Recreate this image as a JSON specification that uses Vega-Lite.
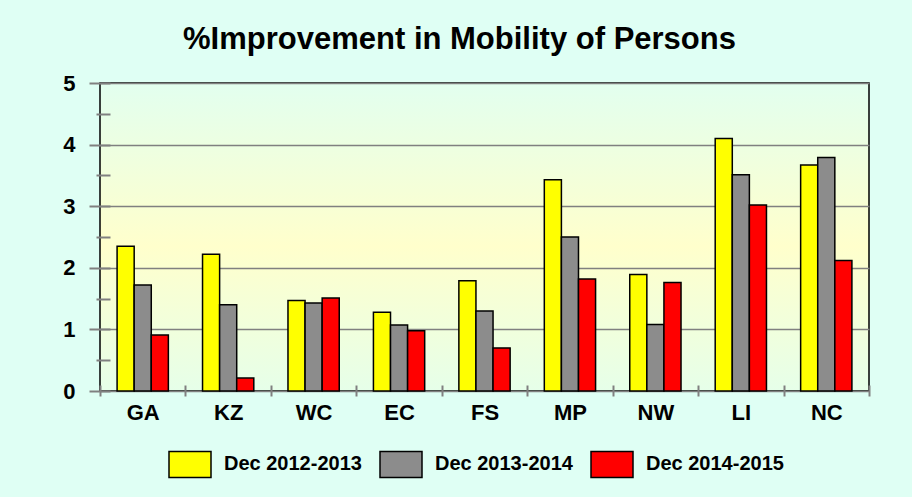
{
  "$schema": "https://vega.github.io/schema/vega-lite/v6.json",
  "width": 769,
  "height": 308,
  "autosize": "none",
  "padding": {"left": 100, "top": 83, "right": 43, "bottom": 106},
  "background": "#dffff4",
  "view": {
    "fill": {"gradient": "linear", "x1": 0, "y1": 0, "x2": 0, "y2": 1,
      "stops": [{"offset": 0, "color": "#e2ffef"}, {"offset": 0.53, "color": "#ffffcc"}, {"offset": 1, "color": "#e6ffe9"}]},
    "stroke": "black",
    "strokeWidth": 1.5
  },
  "title": {
    "text": "%Improvement in Mobility of Persons",
    "font": "Liberation Sans",
    "fontSize": 31,
    "fontWeight": "bold",
    "color": "black",
    "anchor": "middle",
    "frame": "group",
    "dx": -25,
    "baseline": "alphabetic",
    "offset": -8
  },
  "data": {
    "values": [
      {"province": "GA", "period": "Dec 2012-2013", "value": 2.35},
      {"province": "GA", "period": "Dec 2013-2014", "value": 1.72},
      {"province": "GA", "period": "Dec 2014-2015", "value": 0.91},
      {"province": "KZ", "period": "Dec 2012-2013", "value": 2.22},
      {"province": "KZ", "period": "Dec 2013-2014", "value": 1.40},
      {"province": "KZ", "period": "Dec 2014-2015", "value": 0.21},
      {"province": "WC", "period": "Dec 2012-2013", "value": 1.47},
      {"province": "WC", "period": "Dec 2013-2014", "value": 1.43},
      {"province": "WC", "period": "Dec 2014-2015", "value": 1.51},
      {"province": "EC", "period": "Dec 2012-2013", "value": 1.28},
      {"province": "EC", "period": "Dec 2013-2014", "value": 1.07},
      {"province": "EC", "period": "Dec 2014-2015", "value": 0.98},
      {"province": "FS", "period": "Dec 2012-2013", "value": 1.79},
      {"province": "FS", "period": "Dec 2013-2014", "value": 1.30},
      {"province": "FS", "period": "Dec 2014-2015", "value": 0.70},
      {"province": "MP", "period": "Dec 2012-2013", "value": 3.43},
      {"province": "MP", "period": "Dec 2013-2014", "value": 2.50},
      {"province": "MP", "period": "Dec 2014-2015", "value": 1.82},
      {"province": "NW", "period": "Dec 2012-2013", "value": 1.89},
      {"province": "NW", "period": "Dec 2013-2014", "value": 1.08},
      {"province": "NW", "period": "Dec 2014-2015", "value": 1.76},
      {"province": "LI", "period": "Dec 2012-2013", "value": 4.10},
      {"province": "LI", "period": "Dec 2013-2014", "value": 3.51},
      {"province": "LI", "period": "Dec 2014-2015", "value": 3.02},
      {"province": "NC", "period": "Dec 2012-2013", "value": 3.67},
      {"province": "NC", "period": "Dec 2013-2014", "value": 3.79},
      {"province": "NC", "period": "Dec 2014-2015", "value": 2.12}
    ]
  },
  "mark": {"type": "bar", "stroke": "black", "strokeWidth": 1.5},
  "encoding": {
    "x": {
      "field": "province",
      "type": "nominal",
      "sort": ["GA", "KZ", "WC", "EC", "FS", "MP", "NW", "LI", "NC"],
      "scale": {"paddingInner": 0, "paddingOuter": 0},
      "axis": {
        "title": null,
        "domain": false,
        "offset": -6,
        "tickSize": 11,
        "tickColor": "#808080",
        "tickWidth": 2,
        "tickBand": "extent",
        "labelAngle": 0,
        "labelFont": "Liberation Sans",
        "labelFontSize": 22,
        "labelFontWeight": "bold",
        "labelColor": "black",
        "labelPadding": 6,
        "grid": false
      }
    },
    "xOffset": {
      "field": "period",
      "type": "nominal",
      "sort": ["Dec 2012-2013", "Dec 2013-2014", "Dec 2014-2015"],
      "scale": {"paddingInner": 0, "paddingOuter": 1.29}
    },
    "y": {
      "field": "value",
      "type": "quantitative",
      "scale": {"domain": [0, 5], "nice": false},
      "axis": {
        "title": null,
        "values": [0, 0.5, 1, 1.5, 2, 2.5, 3, 3.5, 4, 4.5, 5],
        "format": ".0f",
        "domain": false,
        "offset": -10,
        "tickSize": {"condition": {"test": "datum.value % 1 === 0", "value": 21}, "value": 14},
        "tickColor": "#808080",
        "tickWidth": 2,
        "labelExpr": "datum.value % 1 === 0 ? datum.label : ''",
        "labelFont": "Liberation Sans",
        "labelFontSize": 22,
        "labelFontWeight": "bold",
        "labelColor": "black",
        "labelPadding": 14,
        "grid": true,
        "gridColor": "#808080",
        "gridWidth": 1.5,
        "gridOpacity": {"condition": {"test": "datum.value % 1 === 0", "value": 1}, "value": 0}
      }
    },
    "color": {
      "field": "period",
      "type": "nominal",
      "scale": {
        "domain": ["Dec 2012-2013", "Dec 2013-2014", "Dec 2014-2015"],
        "range": ["#ffff00", "#8c8c8c", "#ff0000"]
      },
      "legend": {
        "title": null,
        "orient": "none",
        "legendX": 68,
        "legendY": 359,
        "direction": "horizontal",
        "symbolType": "M-1,-0.62H1V0.62H-1Z",
        "symbolSize": 1764,
        "symbolStrokeColor": "black",
        "symbolStrokeWidth": 1.5,
        "symbolOpacity": 1,
        "labelFont": "Liberation Sans",
        "labelFontSize": 20,
        "labelFontWeight": "bold",
        "labelColor": "black",
        "labelOffset": 12,
        "columnPadding": 15,
        "padding": 0
      }
    }
  }
}
